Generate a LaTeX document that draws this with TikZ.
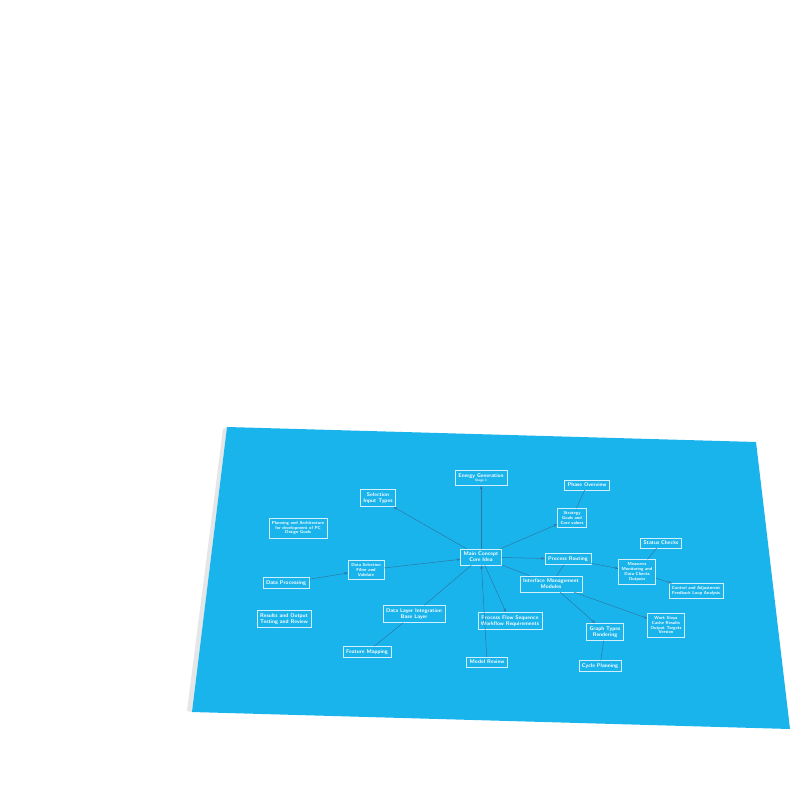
\documentclass[tikz,border=0pt]{standalone}
\usepackage{xcolor}
\usepackage{tikz}
\usetikzlibrary{arrows.meta, positioning, calc}
\definecolor{sheetblue}{HTML}{19B4EC}
\definecolor{linkblue}{HTML}{2C79A6}
\definecolor{shadowgray}{HTML}{E4E6E8}
\tikzset{
  card/.style={draw=white, draw opacity=0.8, line width=0.3pt, text=white, align=center,
    inner sep=2.2pt, font=\fontsize{3.8}{4.3}\selectfont\sffamily\bfseries},
  densecard/.style={card, font=\fontsize{3.1}{3.5}\selectfont\sffamily\bfseries},
  link/.style={linkblue, line width=0.35pt},
  arrowlink/.style={link, -{Stealth[length=2.6pt, width=2pt]}}
}

\begin{document}
\begin{tikzpicture}[x=0.025cm, y=-0.025cm]
  \useasboundingbox (0,0) rectangle (800,800);
  \fill[white] (0,0) rectangle (800,800);

  % Sheet shadow and sheet
  \fill[shadowgray] (223,429) -- (227,427) -- (192,712) -- (187,711) -- cycle;
  \fill[sheetblue] (227,427) -- (756,442) -- (790,729) -- (192,712) -- cycle;

  % Centre node
  \node[card] (main) at (481,557) {Main Concept\\Core Idea};

  % Left side
  \node[card] (energy) at (481,478) {Energy Generation\\[-1pt]{\fontsize{2.4}{3}\selectfont Stage 1}};
  \node[card] (select) at (378,498) {Selection\\Input Types};
  \node[densecard] (plan) at (298,528) {Planning and Architecture\\for development of PC\\Design Goals};
  \node[densecard] (datasel) at (366,570) {Data Selection\\Filter and\\Validate};
  \node[card] (dataproc) at (286,583) {Data Processing};
  \node[card] (results) at (284,619) {Results and Output\\Testing and Review};
  \node[card] (layer) at (414,614) {Data Layer Integration\\Base Layer};
  \node[card] (feature) at (367,652) {Feature Mapping};
  \node[card] (model) at (487,662) {Model Review};
  \node[card] (flow) at (510,621) {Process Flow Sequence\\Workflow Requirements};

  % Right side
  \node[card] (phase) at (587,485) {Phase Overview};
  \node[densecard] (strategy) at (572,518) {Strategy\\Goals and\\Core values};
  \node[card] (routing) at (568,559) {Process Routing};
  \node[card] (iface) at (551,584) {Interface Management\\Modules};
  \node[card] (status) at (661,543) {Status Checks};
  \node[densecard] (measures) at (637,572) {Measures\\Monitoring and\\Data Checks\\Outputs};
  \node[densecard] (control) at (696,591) {Control and Adjustment\\Feedback Loop Analysis};
  \node[densecard] (work) at (666,625) {Work Steps\\Cache Results\\Output Targets\\Version};
  \node[card] (graph) at (605,632) {Graph Types\\Rendering};
  \node[card] (cycle) at (600,666) {Cycle Planning};

  % Connectors with arrow heads
  \foreach \a/\b in {main/energy, main/select, datasel/main, dataproc/datasel, main/strategy,
      main/routing, routing/measures, measures/control, main/flow, model/main, iface/graph, iface/work}
    \draw[arrowlink] (\a) -- (\b);

  % Plain connectors
  \foreach \a/\b in {layer/main, feature/layer, phase/strategy, main/iface, iface/routing,
      measures/status, graph/cycle}
    \draw[link] (\a) -- (\b);
\end{tikzpicture}
\end{document}
